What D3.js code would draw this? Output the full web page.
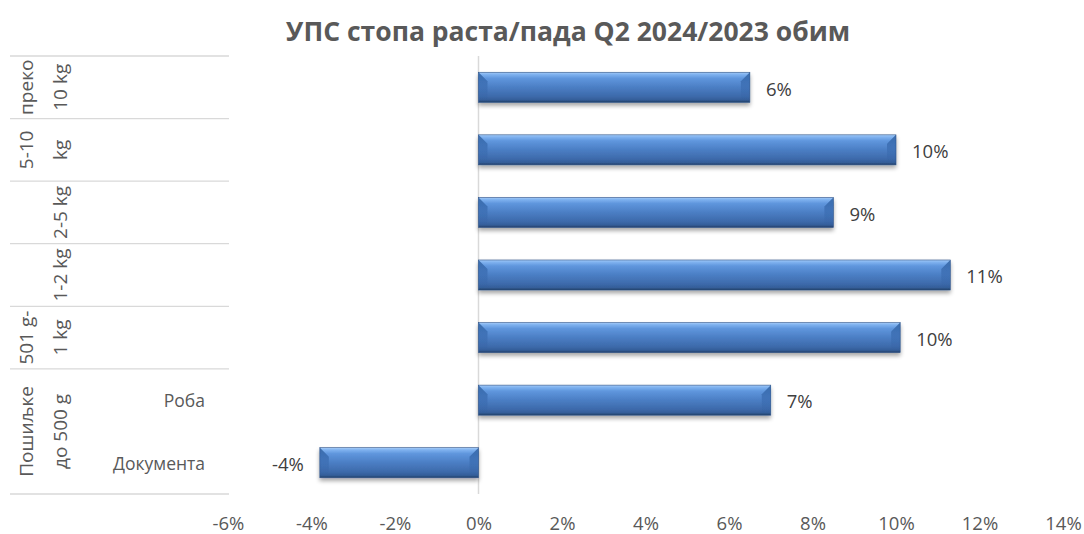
<!DOCTYPE html>
<html>
<head>
<meta charset="utf-8">
<script src="https://cdn.jsdelivr.net/npm/d3@7"></script>
<style>
  html, body { margin: 0; padding: 0; background: #fff; }
  svg { display: block; }
</style>
</head>
<body>
<svg id="chart" width="1084" height="534"></svg>
<script>
// ---- data ----
const title = "УПС стопа раста/пада Q2 2024/2023 обим";
const categories = ["преко 10 kg", "5-10 kg", "2-5 kg", "1-2 kg", "501 g-1 kg", "Роба", "Документа"];
const values = [0.065, 0.100, 0.085, 0.113, 0.101, 0.070, -0.038];
const dataLabels = ["6%", "10%", "9%", "11%", "10%", "7%", "-4%"];
const groupLabels = [
  { lines: ["преко", "10 kg"], rows: 1 },
  { lines: ["5-10", "kg"], rows: 1 },
  { lines: ["2-5 kg"], rows: 1 },
  { lines: ["1-2 kg"], rows: 1 },
  { lines: ["501 g-", "1 kg"], rows: 1 },
  { lines: ["Пошиљке", "до 500 g"], rows: 2 }
];
const innerLabels = ["", "", "", "", "", "Роба", "Документа"];
const xTicks = [-0.06, -0.04, -0.02, 0, 0.02, 0.04, 0.06, 0.08, 0.10, 0.12, 0.14];
const xTickLabels = ["-6%", "-4%", "-2%", "0%", "2%", "4%", "6%", "8%", "10%", "12%", "14%"];

// ---- layout ----
const svg = d3.select("#chart");
const font = "'Open Sans', 'Noto Sans', sans-serif";
const plot = { left: 228, right: 1063, top: 56, bottom: 494 };

const x = d3.scaleLinear().domain([-0.06, 0.14]).range([plot.left, plot.right]);
const y = d3.scaleBand().domain(d3.range(categories.length)).range([plot.top, plot.bottom]).paddingInner(0.52).paddingOuter(0.26);
const rowH = (plot.bottom - plot.top) / categories.length;

// defs
const defs = svg.append("defs");
const g1 = defs.append("linearGradient").attr("id", "barGrad").attr("x1", 0).attr("y1", 0).attr("x2", 0).attr("y2", 1);
[[0, "#a7ccf8"], [0.07, "#80b3f0"], [0.2, "#5f96dd"], [0.5, "#4b7ec4"], [0.8, "#3d6aab"], [0.92, "#345e99"], [1, "#223e66"]]
  .forEach(([o, c]) => g1.append("stop").attr("offset", o).attr("stop-color", c));
const capGrad = defs.append("linearGradient").attr("id", "capGrad").attr("x1", 0).attr("y1", 0).attr("x2", 0).attr("y2", 1);
[[0, "#1f4f90", 0.75], [0.5, "#2a5b9e", 0.35], [1, "#2a5b9e", 0.0]]
  .forEach(([o, c, a]) => capGrad.append("stop").attr("offset", o).attr("stop-color", c).attr("stop-opacity", a));
const f = defs.append("filter").attr("id", "shadow").attr("x", "-10%").attr("y", "-30%").attr("width", "120%").attr("height", "170%");
f.append("feGaussianBlur").attr("in", "SourceAlpha").attr("stdDeviation", 2.2).attr("result", "b");
f.append("feOffset").attr("in", "b").attr("dx", 0).attr("dy", 3).attr("result", "o");
f.append("feComponentTransfer").attr("in", "o").attr("result", "oa").append("feFuncA").attr("type", "linear").attr("slope", 0.35);
const fm = f.append("feMerge");
fm.append("feMergeNode").attr("in", "oa");
fm.append("feMergeNode").attr("in", "SourceGraphic");

// title
svg.append("text")
  .attr("x", 568).attr("y", 41)
  .attr("text-anchor", "middle")
  .attr("font-family", font).attr("font-weight", "bold")
  .attr("font-size", 26.5).attr("fill", "#595959")
  .text(title);

// category separator lines (left label area)
const boundaries = [0];
let acc = 0;
groupLabels.forEach(g => { acc += g.rows; boundaries.push(acc); });
svg.append("g").selectAll("line").data(boundaries).join("line")
  .attr("x1", 10).attr("x2", 229)
  .attr("y1", d => plot.top + d * rowH).attr("y2", d => plot.top + d * rowH)
  .attr("stroke", "#d9d9d9").attr("stroke-width", 1.3);

// zero axis line
svg.append("line")
  .attr("x1", x(0)).attr("x2", x(0))
  .attr("y1", plot.top).attr("y2", plot.bottom)
  .attr("stroke", "#d9d9d9").attr("stroke-width", 1.5);

// x axis tick labels
const xAxis = d3.axisBottom(x).tickValues(xTicks).tickFormat((d, i) => xTickLabels[i]).tickSize(0);
const xg = svg.append("g").attr("transform", `translate(0,${plot.bottom + 20})`).call(xAxis);
xg.select(".domain").remove();
xg.selectAll("text").attr("font-family", font).attr("font-size", 18.5).attr("fill", "#595959").attr("dy", "0.71em");

// bars
const bars = svg.append("g");
categories.forEach((c, i) => {
  const v = values[i];
  const x0 = x(Math.min(0, v)), x1 = x(Math.max(0, v));
  const y0 = y(i), h = y.bandwidth(), y1 = y0 + h;
  const bg = bars.append("g").attr("filter", "url(#shadow)");
  bg.append("rect").attr("x", x0).attr("y", y0).attr("width", x1 - x0).attr("height", h)
    .attr("fill", "url(#barGrad)").attr("stroke", "#2d5287").attr("stroke-width", 0.6);
  const b = 9;
  bg.append("path").attr("d", `M${x0},${y0} L${x0 + b},${y0 + b} L${x0 + b},${y1 - 3} L${x0},${y1} Z`)
    .attr("fill", "url(#capGrad)");
  bg.append("path").attr("d", `M${x1},${y0} L${x1 - b},${y0 + b} L${x1 - b},${y1 - 3} L${x1},${y1} Z`)
    .attr("fill", "url(#capGrad)");
});

// data labels
svg.append("g").selectAll("text").data(values).join("text")
  .attr("x", d => d >= 0 ? x(d) + 16 : x(d) - 16)
  .attr("y", (d, i) => y(i) + y.bandwidth() / 2)
  .attr("dy", "0.45em")
  .attr("text-anchor", d => d >= 0 ? "start" : "end")
  .attr("font-family", font).attr("font-size", 18.5).attr("fill", "#404040")
  .text((d, i) => dataLabels[i]);

// outer (rotated) group labels
let rowStart = 0;
groupLabels.forEach(g => {
  const cy = plot.top + (rowStart + g.rows / 2) * rowH;
  const n = g.lines.length;
  g.lines.forEach((line, j) => {
    const cx = 60 - (n - 1 - j) * 34;
    svg.append("text")
      .attr("transform", `translate(${cx + 7},${cy}) rotate(-90)`)
      .attr("text-anchor", "middle")
      .attr("font-family", font).attr("font-size", 19).attr("fill", "#595959")
      .text(line);
  });
  rowStart += g.rows;
});

// inner labels
svg.append("g").selectAll("text").data(innerLabels).join("text")
  .attr("x", 205)
  .attr("y", (d, i) => plot.top + (i + 0.5) * rowH)
  .attr("dy", "0.4em")
  .attr("text-anchor", "end")
  .attr("font-family", font).attr("font-size", 17.5).attr("fill", "#595959")
  .text(d => d);
</script>
</body>
</html>
